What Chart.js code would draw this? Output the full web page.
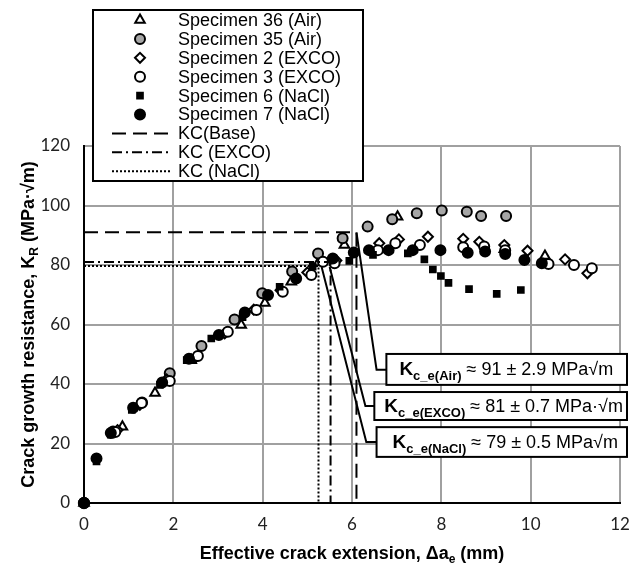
<!DOCTYPE html>
<html>
<head>
<meta charset="utf-8">
<script src="https://cdn.jsdelivr.net/npm/chart.js@4"></script>
<style>
  body { margin: 0; background: #fff; }
  #wrap { width: 641px; height: 566px; position: relative; }
</style>
</head>
<body>
<div id="wrap"><canvas id="chart"></canvas></div>
<script>
// axis ticks
const xTicks = [0, 2, 4, 6, 8, 10, 12];
const yTicks = [0, 20, 40, 60, 80, 100, 120];

// [crack extension (mm), K_R (MPa·√m)]
const spec36 = [[0, 0], [0.86, 25.6], [1.59, 37], [2.4, 48], [3.52, 59.8], [4.05, 67.2], [4.64, 74.4],
    [5.25, 80.8], [5.83, 86.7], [7.02, 96.2], [9.41, 85.3], [10.32, 83]];
const spec35 = [[0, 0], [0.65, 24], [1.3, 33.8], [1.92, 43.6], [2.63, 52.8], [3.37, 61.7],
    [3.99, 70.5], [4.66, 77.8], [5.24, 83.9], [5.79, 89], [6.35, 92.9], [6.9, 95.4], [7.45, 97.4],
    [8.01, 98.3], [8.57, 97.9], [8.89, 96.5], [9.45, 96.5]];
const spec2 = [[0, 0], [0.75, 24.5], [1.25, 33], [1.85, 41.5], [2.5, 49], [3.15, 57], [3.8, 65],
    [4.4, 71.5], [5.0, 77.5], [5.65, 81.5], [6.61, 87.3], [7.05, 88.6], [7.7, 89.5], [8.49, 88.8],
    [8.85, 87.8], [9.41, 86.7], [9.93, 84.8], [10.77, 81.9], [11.27, 77.2]];
const spec3 = [[0, 0], [0.7, 23.9], [1.29, 33.6], [1.92, 41], [2.55, 49.4], [3.22, 57.6],
    [3.86, 64.9], [4.45, 71], [5.09, 76.6], [5.35, 81.1], [5.61, 80.6], [6.58, 85], [6.97, 87.3],
    [7.52, 86.7], [8.49, 86], [8.96, 86.2], [9.43, 85], [10.4, 80.3], [10.97, 80], [11.37, 78.9]];
const spec6 = [[0, 0], [0.28, 14], [0.6, 23], [1.07, 31.3], [1.7, 39.7], [2.3, 48], [2.85, 55.3],
    [3.55, 62.5], [4.1, 69.5], [4.38, 72.7], [5.12, 79.4], [5.94, 81.4], [6.47, 83.4], [7.25, 83.9],
    [7.62, 81.9], [7.81, 78.5], [7.99, 76.3], [8.16, 74], [8.62, 71.9], [9.24, 70.3], [9.78, 71.6]];
const spec7 = [[0, 0], [0.28, 15], [0.6, 23.5], [1.1, 32], [1.75, 40.5], [2.35, 48.5], [3.02, 56.5],
    [3.6, 64], [4.12, 69.9], [4.75, 75.5], [5.57, 82.2], [6.04, 84.2], [6.38, 85], [6.82, 85],
    [7.36, 85], [7.98, 85], [8.59, 84.1], [8.98, 84.5], [9.43, 83.7], [9.86, 81.7], [10.25, 80.6]];

// KC levels and the crack extension where each one ends
const kcNames = ['KC(Base)', 'KC (EXCO)', 'KC (NaCl)'];
const kcLevels = [91, 81, 79.7];
const kcExtensions = [6.1, 5.52, 5.25];

// text of the three call-out boxes
const noteSubs = ['c_e(Air)', 'c_e(EXCO)', 'c_e(NaCl)'];
const noteTexts = [' \u2248 91 \u00b1 2.9 MPa\u221am', ' \u2248 81 \u00b1 0.7 MPa\u00b7\u221am', ' \u2248 79 \u00b1 0.5 MPa\u221am'];

const sans = '"Liberation Sans", Arial, sans-serif';
const toXY = arr => arr.map(p => ({ x: p[0], y: p[1] }));

function marker(label, data, style, fill, radius) {
    return {
        label: label,
        data: toXY(data),
        pointStyle: style,
        pointRadius: radius,
        pointBackgroundColor: fill,
        pointBorderColor: '#000',
        pointBorderWidth: 2,
        backgroundColor: fill,
        borderColor: '#000',
        showLine: false,
        clip: false
    };
}

function kcLine(i, dash) {
    return {
        label: kcNames[i],
        data: toXY([[0, kcLevels[i]], [kcExtensions[i], kcLevels[i]], [kcExtensions[i], 0]]),
        showLine: true,
        borderColor: '#000',
        borderWidth: 2,
        borderDash: dash,
        pointRadius: 0,
        clip: false
    };
}

// call-out geometry (data units)
const notes = [
    { from: [6.1, 91], elbow: [6.55, 44.8], left: 6.77, top: 50.1, bottom: 39.7, pad: 13 },
    { from: [5.5, 79.3], elbow: [6.3, 32.6], left: 6.5, top: 37.3, bottom: 27.9, pad: 10 },
    { from: [5.32, 79.3], elbow: [6.32, 20.5], left: 6.55, top: 25.5, bottom: 15.5, pad: 16 }
];

function drawRich(ctx, parts, x, y) {
    parts.forEach(p => {
        ctx.font = p.font;
        ctx.fillText(p.text, x, y + (p.dy || 0));
        x += ctx.measureText(p.text).width;
    });
    return x;
}
function richWidth(ctx, parts) {
    let w = 0;
    parts.forEach(p => { ctx.font = p.font; w += ctx.measureText(p.text).width; });
    return w;
}

const overlay = {
    id: 'overlay',
    afterDatasetsDraw(chart) {
        const ctx = chart.ctx, xs = chart.scales.x, ys = chart.scales.y;
        ctx.save();
        notes.forEach((n, i) => {
            const x0 = xs.getPixelForValue(n.from[0]), y0 = ys.getPixelForValue(n.from[1]);
            const x1 = xs.getPixelForValue(n.elbow[0]), y1 = ys.getPixelForValue(n.elbow[1]);
            const left = xs.getPixelForValue(n.left);
            const top = ys.getPixelForValue(n.top), bottom = ys.getPixelForValue(n.bottom);
            ctx.setLineDash([]);
            ctx.strokeStyle = '#000';
            ctx.lineWidth = 2;
            ctx.beginPath();
            ctx.moveTo(x0, y0);
            ctx.lineTo(x1, y1);
            ctx.lineTo(left, y1);
            ctx.stroke();

            const parts = [
                { text: 'K', font: 'bold 19px ' + sans },
                { text: noteSubs[i], font: 'bold 13px ' + sans, dy: 5 },
                { text: noteTexts[i], font: '18px ' + sans }
            ];
            const tx = left + n.pad;
            const right = Math.max(627, tx + richWidth(ctx, parts) + 4);
            ctx.fillStyle = '#fff';
            ctx.fillRect(left, top, right - left, bottom - top);
            ctx.strokeRect(left, top, right - left, bottom - top);
            ctx.fillStyle = '#000';
            ctx.textAlign = 'left';
            ctx.textBaseline = 'alphabetic';
            drawRich(ctx, parts, tx, (top + bottom) / 2 + 6);
        });
        ctx.restore();
    },
    afterDraw(chart) {
        const ctx = chart.ctx, area = chart.chartArea;
        ctx.save();
        ctx.fillStyle = '#000';
        ctx.textBaseline = 'alphabetic';
        ctx.textAlign = 'left';

        // x title
        const xt = [
            { text: 'Effective crack extension, \u0394a', font: 'bold 18px ' + sans },
            { text: 'e', font: 'bold 12px ' + sans, dy: 4 },
            { text: ' (mm)', font: 'bold 18px ' + sans }
        ];
        const cx = (area.left + area.right) / 2;
        drawRich(ctx, xt, cx - richWidth(ctx, xt) / 2, 559);

        // y title
        const yt = [
            { text: 'Crack growth resistance, K', font: 'bold 18px ' + sans },
            { text: 'R', font: 'bold 12px ' + sans, dy: 4 },
            { text: ' (MPa\u00b7\u221am)', font: 'bold 18px ' + sans }
        ];
        ctx.translate(34, (area.top + area.bottom) / 2);
        ctx.rotate(-Math.PI / 2);
        drawRich(ctx, yt, -richWidth(ctx, yt) / 2, 0);
        ctx.setTransform(1, 0, 0, 1, 0, 0);

        // legend
        ctx.fillStyle = '#fff';
        ctx.strokeStyle = '#000';
        ctx.lineWidth = 2;
        ctx.setLineDash([]);
        ctx.fillRect(93, 10, 270, 171);
        ctx.strokeRect(93, 10, 270, 171);
        chart.data.datasets.forEach((ds, i) => {
            const y = 20 + i * 18.9;
            if (ds.showLine) {
                ctx.strokeStyle = '#000';
                ctx.lineWidth = 2;
                ctx.setLineDash(ds.borderDash);
                ctx.beginPath();
                ctx.moveTo(112, y);
                ctx.lineTo(170, y);
                ctx.stroke();
                ctx.setLineDash([]);
            } else {
                ctx.fillStyle = ds.pointBackgroundColor;
                ctx.strokeStyle = ds.pointBorderColor;
                ctx.lineWidth = ds.pointBorderWidth;
                Chart.helpers.drawPoint(ctx, {
                    pointStyle: ds.pointStyle, radius: ds.pointRadius,
                    rotation: 0, borderWidth: ds.pointBorderWidth
                }, 140, y);
            }
            ctx.fillStyle = '#000';
            ctx.font = '18px ' + sans;
            ctx.textBaseline = 'middle';
            ctx.fillText(ds.label, 178, y + 1);
        });
        ctx.restore();
    }
};

const datasets = [
    marker('Specimen 36 (Air)', spec36, 'triangle', '#fff', 5.5),
    marker('Specimen 35 (Air)', spec35, 'circle', '#a6a6a6', 5),
    marker('Specimen 2 (EXCO)', spec2, 'rectRot', '#fff', 5),
    marker('Specimen 3 (EXCO)', spec3, 'circle', '#fff', 5),
    marker('Specimen 6 (NaCl)', spec6, 'rect', '#000', 4),
    marker('Specimen 7 (NaCl)', spec7, 'circle', '#000', 5),
    kcLine(0, [14, 7]),
    kcLine(1, [10, 4, 2, 4]),
    kcLine(2, [2, 2])
];
// later series are painted over earlier ones
datasets.forEach((ds, i) => { ds.order = datasets.length - i; });

new Chart(document.getElementById('chart'), {
    type: 'scatter',
    data: { datasets: datasets },
    options: {
        responsive: true,
        maintainAspectRatio: false,
        animation: false,
        events: [],
        layout: { padding: { top: 146, right: 21, bottom: 0, left: 0 } },
        plugins: {
            legend: { display: false },
            tooltip: { enabled: false }
        },
        scales: {
            x: {
                type: 'linear',
                min: 0,
                max: 12,
                afterBuildTicks: s => { s.ticks = xTicks.map(v => ({ value: v })); },
                afterFit: s => { s.height = 63; },
                grid: { color: '#a0a0a0', lineWidth: 2, drawTicks: false },
                border: { color: '#000', width: 2 },
                ticks: { color: '#222', padding: 11, font: { family: 'Lato', size: 17 } }
            },
            y: {
                type: 'linear',
                min: 0,
                max: 120,
                afterBuildTicks: s => { s.ticks = yTicks.map(v => ({ value: v })); },
                afterFit: s => { s.width = 84; },
                grid: { color: '#a0a0a0', lineWidth: 2, drawTicks: false },
                border: { color: '#000', width: 2 },
                ticks: { color: '#222', padding: 14, font: { family: 'Lato', size: 17 } }
            }
        }
    },
    plugins: [overlay]
});
</script>
</body>
</html>
